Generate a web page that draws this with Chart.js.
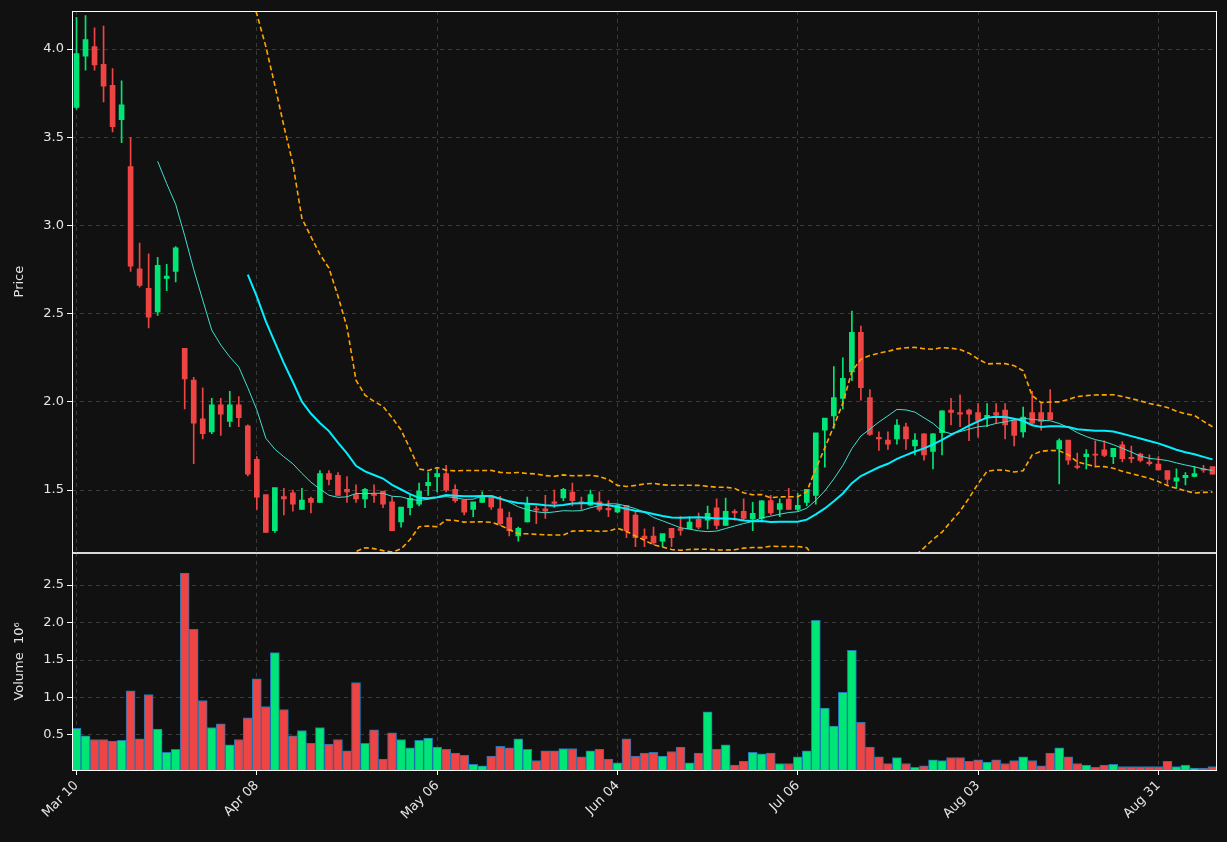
<!DOCTYPE html>
<html>
<head>
<meta charset="utf-8">
<script src="https://cdn.jsdelivr.net/npm/chart.js@4.4.1/dist/chart.umd.min.js"></script>
<style>
  body { margin: 0; background: #111111; }
  #wrap { position: relative; width: 1227px; height: 842px; }
  #priceBox { position: absolute; left: 0; top: 0; width: 1227px; height: 563px; }
  #volBox { position: absolute; left: 0; top: 542px; width: 1227px; height: 300px; }
</style>
</head>
<body>
<div id="wrap">
  <div id="priceBox"><canvas id="priceChart"></canvas></div>
  <div id="volBox"><canvas id="volChart"></canvas></div>
</div>
<script>
// tick labels, one every 20 sessions
const tickLabels = ['Mar 10', 'Apr 08', 'May 06', 'Jun 04', 'Jul 06', 'Aug 03', 'Aug 31'];

// OHLC
const opens = [3.67,3.96,4.01,3.91,3.79,3.60,3.33,2.75,2.64,2.51,2.70,2.74,2.30,2.12,1.90,1.83,1.98,1.89,1.98,1.86,
  1.67,1.47,1.27,1.46,1.48,1.39,1.45,1.43,1.59,1.58,1.50,1.47,1.45,1.475,1.49,1.43,1.32,1.40,1.42,1.525,
  1.576,1.59,1.50,1.44,1.39,1.43,1.465,1.39,1.34,1.24,1.32,1.39,1.39,1.43,1.455,1.485,1.43,1.415,1.43,1.392,
  1.376,1.41,1.355,1.235,1.235,1.21,1.28,1.278,1.28,1.33,1.33,1.395,1.30,1.375,1.375,1.337,1.34,1.436,1.39,1.445,
  1.39,1.43,1.47,1.84,1.92,2.02,2.17,2.39,2.02,1.795,1.78,1.79,1.855,1.75,1.815,1.72,1.825,1.95,1.935,1.95,
  1.935,1.91,1.935,1.95,1.895,1.83,1.935,1.935,1.935,1.733,1.78,1.632,1.69,1.70,1.724,1.69,1.752,1.682,1.70,1.655,
  1.644,1.606,1.55,1.57,1.578,1.617,1.63];
const highs = [4.18,4.19,4.12,4.13,3.89,3.82,3.50,2.90,2.84,2.82,2.78,2.88,2.30,2.14,2.08,2.02,2.02,2.06,2.03,1.87,
  1.69,1.47,1.51,1.51,1.50,1.51,1.46,1.61,1.61,1.60,1.576,1.53,1.51,1.53,1.49,1.46,1.40,1.47,1.54,1.60,
  1.62,1.64,1.53,1.44,1.43,1.49,1.47,1.465,1.375,1.29,1.46,1.41,1.47,1.50,1.51,1.54,1.46,1.50,1.49,1.44,
  1.42,1.41,1.38,1.28,1.29,1.25,1.28,1.35,1.35,1.37,1.41,1.45,1.455,1.39,1.45,1.43,1.44,1.47,1.45,1.51,
  1.48,1.50,1.82,1.905,2.20,2.25,2.515,2.43,2.07,1.83,1.83,1.90,1.88,1.82,1.82,1.82,1.95,2.02,2.04,1.96,
  1.99,1.99,1.99,1.99,1.90,1.97,2.06,1.99,2.07,1.79,1.78,1.71,1.73,1.78,1.78,1.735,1.775,1.75,1.71,1.70,
  1.69,1.606,1.62,1.60,1.635,1.64,1.63];
const lows = [3.66,3.88,3.88,3.70,3.53,3.47,2.74,2.65,2.42,2.49,2.63,2.68,1.96,1.65,1.79,1.82,1.81,1.86,1.86,1.58,
  1.39,1.26,1.26,1.36,1.38,1.39,1.37,1.43,1.53,1.47,1.43,1.43,1.40,1.43,1.40,1.27,1.29,1.36,1.41,1.47,
  1.49,1.49,1.43,1.36,1.35,1.43,1.39,1.30,1.24,1.21,1.32,1.31,1.34,1.40,1.44,1.41,1.39,1.41,1.38,1.35,
  1.37,1.23,1.18,1.18,1.19,1.18,1.18,1.245,1.28,1.28,1.28,1.28,1.30,1.33,1.33,1.27,1.32,1.36,1.35,1.39,
  1.38,1.41,1.42,1.63,1.85,1.96,2.12,2.01,1.81,1.725,1.73,1.76,1.73,1.70,1.67,1.62,1.70,1.87,1.86,1.78,
  1.80,1.86,1.88,1.79,1.75,1.80,1.87,1.84,1.90,1.535,1.645,1.62,1.62,1.63,1.69,1.65,1.66,1.655,1.66,1.64,
  1.615,1.53,1.51,1.53,1.575,1.60,1.59];
const closes = [3.97,4.05,3.91,3.79,3.56,3.68,2.77,2.66,2.48,2.77,2.71,2.87,2.13,1.88,1.82,1.98,1.93,1.98,1.91,1.59,
  1.46,1.26,1.51,1.45,1.42,1.44,1.43,1.59,1.56,1.47,1.49,1.45,1.50,1.47,1.42,1.27,1.40,1.45,1.49,1.54,
  1.59,1.50,1.44,1.375,1.43,1.455,1.405,1.31,1.27,1.28,1.42,1.388,1.38,1.425,1.50,1.44,1.425,1.47,1.39,1.388,
  1.41,1.27,1.23,1.225,1.20,1.25,1.23,1.272,1.315,1.29,1.365,1.30,1.375,1.37,1.34,1.365,1.435,1.37,1.42,1.39,
  1.41,1.50,1.82,1.905,2.02,2.13,2.39,2.08,1.815,1.79,1.76,1.865,1.79,1.78,1.70,1.815,1.945,1.94,1.93,1.93,
  1.895,1.92,1.925,1.87,1.81,1.91,1.88,1.89,1.90,1.777,1.67,1.628,1.70,1.698,1.697,1.733,1.678,1.678,1.668,1.65,
  1.615,1.56,1.565,1.58,1.59,1.613,1.59];

// volume, millions
const volumes = [0.59,0.49,0.44,0.44,0.42,0.43,1.09,0.45,1.04,0.58,0.27,0.31,2.66,1.91,0.96,0.60,0.65,0.37,0.44,0.73,
  1.25,0.88,1.60,0.84,0.49,0.56,0.39,0.60,0.38,0.44,0.29,1.20,0.39,0.57,0.18,0.53,0.44,0.33,0.43,0.46,
  0.34,0.31,0.26,0.23,0.11,0.09,0.22,0.35,0.33,0.45,0.31,0.16,0.29,0.29,0.32,0.32,0.21,0.29,0.31,0.18,
  0.13,0.45,0.22,0.26,0.27,0.22,0.28,0.34,0.13,0.26,0.81,0.31,0.37,0.10,0.15,0.27,0.25,0.26,0.12,0.12,
  0.21,0.29,2.03,0.86,0.62,1.07,1.63,0.67,0.34,0.21,0.12,0.20,0.12,0.07,0.09,0.17,0.16,0.20,0.20,0.15,
  0.17,0.14,0.17,0.12,0.16,0.21,0.16,0.09,0.26,0.33,0.21,0.12,0.10,0.07,0.10,0.11,0.08,0.08,0.08,0.08,
  0.08,0.15,0.08,0.10,0.06,0.06,0.08];

const UP = '#00e676';
const DOWN = '#ee4444';
const GRID = '#3a3a3a';
const TXT = '#e6e6e6';
const FONT = { family: 'DejaVu Sans', size: 13 };

const cats = closes.map((c, i) => i);
const colors = closes.map((c, i) => (c >= opens[i] ? UP : DOWN));

function sma(arr, w) {
  return arr.map((v, i) => {
    if (i < w - 1) return null;
    let s = 0;
    for (let k = i - w + 1; k <= i; k++) s += arr[k];
    return s / w;
  });
}
function band(arr, w, mult, sign) {
  const m = sma(arr, w);
  return arr.map((v, i) => {
    if (m[i] === null) return null;
    let s = 0;
    for (let k = i - w + 1; k <= i; k++) s += (arr[k] - m[i]) ** 2;
    return m[i] + sign * mult * Math.sqrt(s / w);
  });
}
const ma10 = sma(closes, 10);
const ma20 = sma(closes, 20);
const bbUp = band(closes, 20, 2, 1);
const bbLo = band(closes, 20, 2, -1);

const framePlugin = {
  id: 'frame',
  afterDraw(chart) {
    const a = chart.chartArea, ctx = chart.ctx;
    ctx.save();
    ctx.strokeStyle = '#ffffff';
    ctx.lineWidth = 1;
    ctx.strokeRect(a.left + 0.5, a.top + 0.5, a.right - a.left - 1, a.bottom - a.top);
    ctx.restore();
  }
};

function xAxis(showTicks) {
  return {
    type: 'category',
    offset: true,
    afterFit: s => { s.height = showTicks ? 72 : 0; },
    grid: {
      offset: false,
      color: c => (c.index % 20 === 0 ? GRID : 'transparent'),
      drawTicks: showTicks,
      tickColor: c => (c.index % 20 === 0 ? '#ffffff' : 'transparent'),
      tickLength: 5
    },
    border: { display: false, dash: [4, 4] },
    ticks: {
      display: showTicks,
      autoSkip: false,
      maxRotation: 45,
      minRotation: 45,
      color: TXT,
      font: FONT,
      callback: (v, i) => (i % 20 === 0 ? tickLabels[i / 20] : '')
    }
  };
}

function yAxis(min, max, title) {
  return {
    min: min,
    max: max,
    afterFit: s => { s.width = 62; },
    afterBuildTicks: s => { s.ticks = s.ticks.filter(t => Math.abs(t.value * 2 - Math.round(t.value * 2)) < 1e-6); },
    grid: { color: GRID, tickColor: '#ffffff', tickLength: 5 },
    border: { display: false, dash: [4, 4] },
    ticks: { stepSize: 0.5, color: TXT, font: FONT, callback: v => v.toFixed(1) },
    title: { display: true, text: title, color: TXT, font: FONT, padding: 2 }
  };
}

new Chart(document.getElementById('priceChart'), {
  data: {
    labels: cats,
    datasets: [
      { type: 'line', data: ma10, borderColor: '#40e0d0', borderWidth: 1, pointRadius: 0, tension: 0 },
      { type: 'line', data: ma20, borderColor: '#00f0ff', borderWidth: 2, pointRadius: 0, tension: 0 },
      { type: 'line', data: bbUp, borderColor: '#ffa500', borderWidth: 1.6, borderDash: [5, 3], pointRadius: 0, tension: 0 },
      { type: 'line', data: bbLo, borderColor: '#ffa500', borderWidth: 1.6, borderDash: [5, 3], pointRadius: 0, tension: 0 },
      { type: 'bar', data: lows.map((l, i) => [l, highs[i]]), backgroundColor: colors, barThickness: 1, grouped: false },
      { type: 'bar', data: opens.map((o, i) => [Math.min(o, closes[i]), Math.max(o, closes[i]) + 0.004]),
        backgroundColor: colors, barThickness: 5, grouped: false }
    ]
  },
  options: {
    responsive: true,
    maintainAspectRatio: false,
    animation: false,
    layout: { padding: { top: 11, right: 10, bottom: 0, left: 10 } },
    plugins: { legend: { display: false }, tooltip: { enabled: false } },
    scales: { x: xAxis(false), y: yAxis(1.148, 4.216, 'Price') }
  },
  plugins: [framePlugin]
});

new Chart(document.getElementById('volChart'), {
  type: 'bar',
  data: {
    labels: cats,
    datasets: [{
      data: volumes,
      backgroundColor: colors,
      borderColor: '#1f77b4',
      borderWidth: { top: 1, left: 1, right: 1, bottom: 0 },
      barPercentage: 1,
      categoryPercentage: 1
    }]
  },
  options: {
    responsive: true,
    maintainAspectRatio: false,
    animation: false,
    layout: { padding: { top: 0, right: 10, bottom: 0, left: 10 } },
    plugins: { legend: { display: false }, tooltip: { enabled: false } },
    scales: { x: xAxis(true), y: yAxis(0.033, 2.93, 'Volume  10\u2076') }
  },
  plugins: [framePlugin]
});
</script>
</body>
</html>
